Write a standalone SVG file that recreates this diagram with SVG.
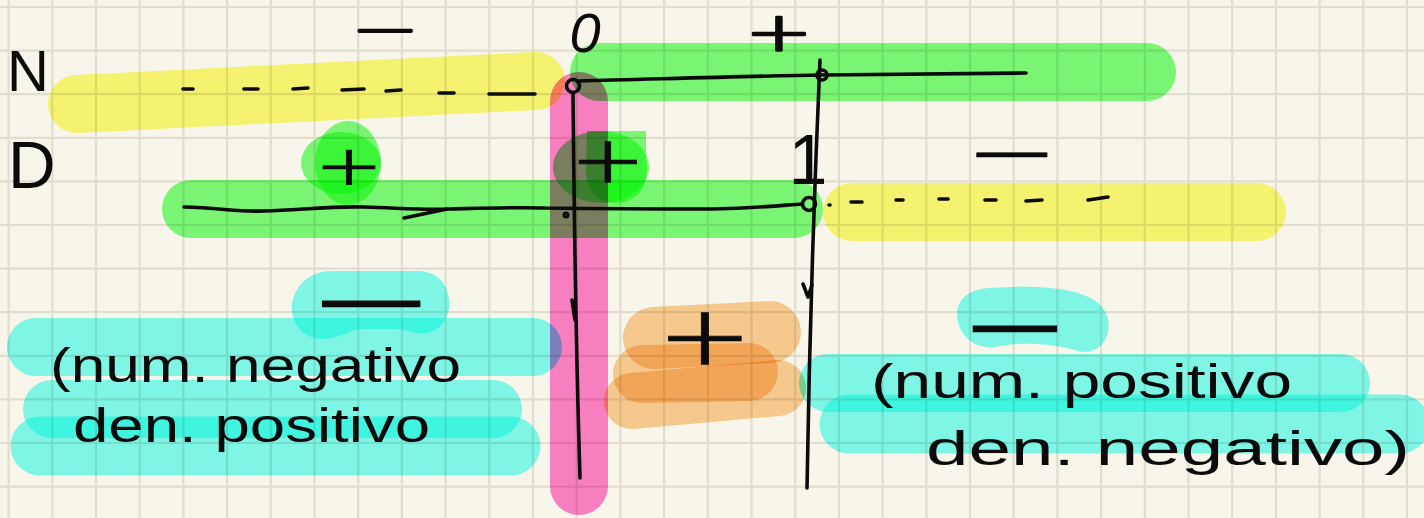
<svg xmlns="http://www.w3.org/2000/svg" width="1424" height="518" viewBox="0 0 1424 518">
  <style>
    .hl { mix-blend-mode: multiply; fill: none; stroke-linecap: round; stroke-linejoin: round; }
    .blob { mix-blend-mode: multiply; stroke: none; }
    .yel { stroke: #fcfc7a; }
    .grn { stroke: #7dff7d; }
    .pnk { stroke: #fe83d0; }
    .cya { stroke: #82fffa; }
    .org { stroke: #fcd19b; }
    .ink { fill: none; stroke: #0b0b0b; stroke-width: 3.6; stroke-linecap: round; stroke-linejoin: round; }
    .hand { font-family: "Liberation Sans", Arial, sans-serif; fill: #0b0b0b; }
    .sign { font-family: Inter, "Liberation Sans", sans-serif; font-weight: 200; fill: #0b0b0b; stroke: #0b0b0b; stroke-width: 0.6; text-anchor: middle; }
    .sign-top { font-family: "DejaVu Sans", sans-serif; font-weight: 200; fill: #0b0b0b; stroke: #0b0b0b; stroke-width: 2.4; stroke-linejoin: round; text-anchor: middle; }
    .sign-bold { font-family: Inter, "Liberation Sans", sans-serif; font-weight: 700; fill: #0b0b0b; stroke: #0b0b0b; stroke-width: 1.2; text-anchor: middle; }
  </style>

  <!-- paper -->
  <rect width="1424" height="518" fill="#f8f5ea"/>
  <g id="grid" stroke="#e1ded0" stroke-width="2.2">
    <path d="M8.6,0V518M52.3,0V518M96,0V518M139.7,0V518M183.4,0V518M227.1,0V518M270.8,0V518M314.5,0V518M358.2,0V518M401.9,0V518M445.6,0V518M489.3,0V518M533,0V518M576.7,0V518M620.4,0V518M664.1,0V518M707.8,0V518M751.5,0V518M795.2,0V518M838.9,0V518M882.6,0V518M926.3,0V518M970,0V518M1013.7,0V518M1057.4,0V518M1101.1,0V518M1144.8,0V518M1188.5,0V518M1232.2,0V518M1275.9,0V518M1319.6,0V518M1363.3,0V518M1407,0V518"/>
    <path d="M0,7H1424M0,50.6H1424M0,94.2H1424M0,137.8H1424M0,181.4H1424M0,225H1424M0,268.6H1424M0,312.2H1424M0,355.8H1424M0,399.4H1424M0,443H1424M0,486.6H1424"/>
  </g>

  <!-- highlighter bands -->
  <g id="highlights">
    <path class="hl yel" stroke-width="58" d="M77,104 L536,81"/>
    <path class="hl grn" stroke-width="58" d="M599,72 L1147,72"/>
    <path class="hl grn" stroke-width="58" d="M191,209 L794,209"/>
    <path class="hl yel" stroke-width="58" d="M852,212 L1257,212"/>
    <ellipse class="blob" fill="#7dff7d" cx="348" cy="163" rx="33" ry="42"/>
    <ellipse class="blob" fill="#7dff7d" cx="341" cy="163" rx="40" ry="31"/>
    <ellipse class="blob" fill="#7dff7d" cx="601" cy="167" rx="48" ry="36"/>
    <path class="blob" fill="#7dff7d" d="M587,131 L646,131 L646,158 C651,188 636,203 615,203 C596,203 586,190 586,170 Z"/>
    <path class="hl pnk" stroke-width="58" d="M579,101 L579,486"/>
    <path class="hl cya" stroke-width="58" d="M36,347 L533,347"/>
    <path class="hl cya" stroke-width="58" d="M52,409 L493,409"/>
    <path class="hl cya" stroke-width="59" d="M40,446 L511,446"/>
    <path class="blob" fill="#82fffa" d="M330,271 C300,272 290,298 292,312 C295,334 314,340 325,339 C340,338 350,330 362,329 L398,329 C410,331 420,335 428,333 C448,328 452,306 448,294 C443,276 431,271 415,271 Z"/>
    <path class="hl cya" stroke-width="58" d="M828,383 L1341,383"/>
    <path class="hl cya" stroke-width="59" d="M849,424 L1400,424"/>
    <path class="blob" fill="#82fffa" d="M990,288 C1030,285 1070,287 1090,298 C1108,306 1113,325 1105,340 C1098,352 1085,354 1075,350 C1050,343 1020,342 1000,346 C975,352 958,335 957,315 C957,298 970,289 990,288 Z"/>
    <path class="hl org" stroke-width="62" d="M654,338 L770,332"/>
    <path class="hl org" stroke-width="58" d="M642,374 L749,372"/>
    <path class="hl org" stroke-width="56" d="M632,401 L778,388"/>
  </g>

  <!-- pen strokes: number lines, dashes, markers -->
  <g id="connectors" class="ink">
    <path d="M579,81 C660,79 750,76 822,75 C900,74 970,73 1026,73"/>
    <circle cx="573" cy="86" r="6.5"/>
    <circle cx="822" cy="75" r="5"/>
    <path d="M183,89 L193,89 M244,89 L258,89 M293,89 L308,88 M342,90 L364,89 M386,91 L401,90 M439,93 L454,93 M489,94 L535,94"/>
    <path d="M573,93 C574,200 576,350 580,478"/>
    <path d="M572,300 L575,320"/>
    <path d="M820,60 C816,150 810,300 807,488"/>
    <path d="M803,284 L808,297 L812,285"/>
    <path d="M184,207 C220,208 240,212 264,211 C300,210 330,206 364,207 C400,208 420,210 450,209 C490,208 520,207 545,208 C620,209 690,209 712,209 C760,208 785,205 802,204"/>
    <circle cx="809" cy="204" r="6.5"/>
    <path d="M404,218 L447,209"/>
    <circle cx="566" cy="215" r="1.5" stroke-width="4"/>
    <path d="M829,205 L830,205 M851,202 L862,202 M896,200 L903,200 M939,199 L948,199 M985,200 L996,200 M1026,201 L1042,200 M1088,200 L1108,197"/>
  </g>

  <!-- letters and values -->
  <g id="labels">
    <text class="hand" x="7" y="91" font-size="58">N</text>
    <text class="hand" x="8" y="188" font-size="66">D</text>
    <text class="hand" x="585" y="52" font-size="56" font-style="italic" text-anchor="middle">0</text>
    <text class="hand" x="808" y="184" font-size="70" text-anchor="middle">1</text>
  </g>

  <!-- sign marks -->
  <g id="signs">
    <text class="sign-top" font-size="46" transform="translate(385 45) scale(1.77 1)">−</text>
    <text class="sign-top" font-size="54" transform="translate(779 51) scale(1.5 1)">+</text>
    <text class="sign" font-size="80" transform="translate(349 190) scale(1.5 1)">+</text>
    <text class="sign" font-size="95" transform="translate(608 189) scale(1.4 1)">+</text>
    <text class="sign" font-size="100" transform="translate(1012 183) scale(1.64 1)">−</text>
    <text class="sign-bold" font-size="45" transform="translate(371 317) scale(4.2 1)">−</text>
    <text class="sign" font-size="120" transform="translate(705 373) scale(1.4 1)">+</text>
    <text class="sign-bold" font-size="45" transform="translate(1015 342) scale(3.6 1)">−</text>
  </g>

  <!-- sign-chart notes -->
  <g id="notes">
    <text class="hand" x="50" y="382" font-size="48" textLength="411" lengthAdjust="spacingAndGlyphs">(num. negativo</text>
    <text class="hand" x="73" y="442" font-size="48" textLength="357" lengthAdjust="spacingAndGlyphs">den. positivo</text>
    <text class="hand" x="871" y="398" font-size="48" textLength="421" lengthAdjust="spacingAndGlyphs">(num. positivo</text>
    <text class="hand" x="926" y="465" font-size="48" textLength="484" lengthAdjust="spacingAndGlyphs">den. negativo)</text>
  </g>
</svg>
